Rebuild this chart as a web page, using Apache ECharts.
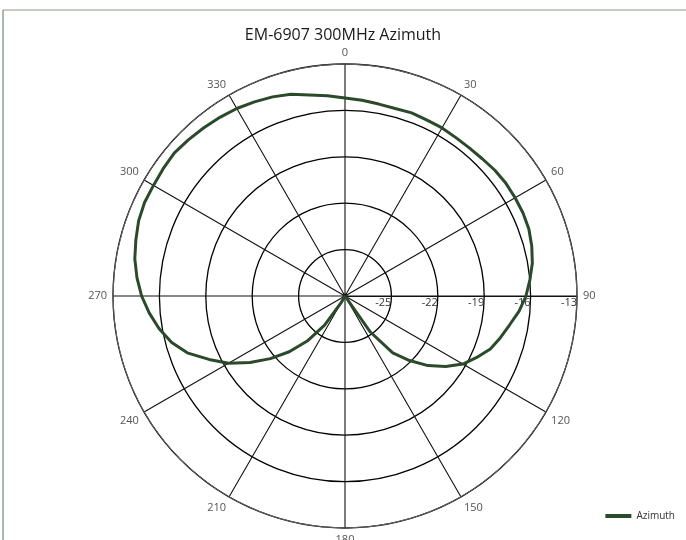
<!DOCTYPE html>
<html>
<head>
<meta charset="utf-8">
<script src="https://cdn.jsdelivr.net/npm/echarts@6/dist/echarts.min.js"></script>
<style>html,body{margin:0;padding:0;background:#fff;}#c{width:686px;height:540px;}</style>
</head>
<body>
<div id="c"></div>
<script>
var title = 'EM-6907 300MHz Azimuth';
var seriesName = 'Azimuth';
var angles = [0,5,10,15,20,25,30,35,40,45,50,55,60,65,70,75,80,85,90,95,100,105,110,115,120,125,130,135,140,145,150,155,160,165,170,175,180,185,190,195,200,205,210,215,220,225,230,235,240,245,250,255,260,265,270,275,280,285,290,295,300,305,310,315,320,325,330,335,340,345,350,355,360];
var gains = [-15.2,-15.3,-15.4,-15.45,-15.4,-15.45,-15.45,-15.5,-15.5,-15.45,-15.35,-15.3,-15.3,-15.3,-15.35,-15.5,-15.7,-16.0,-16.3,-16.7,-17.2,-17.6,-18.0,-18.6,-19.2,-20.05,-21.0,-22.1,-23.2,-25.2,-28,-28,-28,-28,-28,-28,-28,-28,-28,-28,-28,-28,-27.5,-25.7,-24.2,-22.9,-21.7,-20.5,-19.3,-18.3,-17.2,-16.4,-15.8,-15.3,-14.85,-14.5,-14.2,-14.0,-13.8,-13.7,-13.7,-13.65,-13.6,-13.7,-13.8,-13.9,-14.0,-14.15,-14.3,-14.5,-14.8,-15.0,-15.2];
var rMin = -28, rMax = -13, rStep = 3;
var angleStep = 30;

// The radius axis sits at the angle axis start (east), so the angle axis runs 90..450
var data = angles.map(function(a, i){ return [gains[i], a < 90 ? a + 360 : a]; });
var chart = echarts.init(document.getElementById('c'));
chart.setOption({
  backgroundColor: '#fff',
  animation: false,
  title: { text: title, left: 'center', top: 22, textStyle: { fontFamily: 'Open Sans', fontSize: 16, fontWeight: 'normal', color: '#1a1a1a' } },
  legend: { right: 6, bottom: 14, itemWidth: 26, itemHeight: 4, icon: 'rect', textStyle: { fontFamily: 'Open Sans', fontSize: 10, color: '#333' }, itemGap: 2, data: [seriesName] },
  graphic: [
    { type: 'line', shape: { x1: 3, y1: 10, x2: 686, y2: 10 }, style: { stroke: '#8a9a8a', lineWidth: 1 } },
    { type: 'line', shape: { x1: 3, y1: 10, x2: 3, y2: 540 }, style: { stroke: '#5a6e5a', lineWidth: 1 } }
  ],
  polar: { center: [345, 296], radius: 232 },
  angleAxis: {
    type: 'value', min: 90, max: 450, interval: angleStep, startAngle: 0, clockwise: true,
    axisLine: { lineStyle: { color: '#666', width: 1 } },
    axisTick: { show: false },
    axisLabel: { fontFamily: 'Open Sans', fontSize: 11, color: '#555', margin: 6, formatter: function(v){ return String(v % 360); } },
    splitLine: { show: true, lineStyle: { color: '#111', width: 1.1 } }
  },
  radiusAxis: {
    type: 'value', min: rMin, max: rMax, interval: rStep,
    axisLine: { show: true, lineStyle: { color: '#111', width: 1.1 } },
    axisTick: { show: false },
    axisLabel: { fontFamily: 'Open Sans', fontSize: 11, color: '#333', showMinLabel: false, margin: -1, align: 'right', verticalAlign: 'top' },
    splitLine: { show: true, lineStyle: { color: '#000', width: 1.3 } }
  },
  series: [{
    name: seriesName, type: 'line', coordinateSystem: 'polar', data: data,
    showSymbol: false, smooth: false,
    lineStyle: { color: '#2a4a2a', width: 3 },
    itemStyle: { color: '#2a4a2a' }
  }]
});
</script>
</body>
</html>
